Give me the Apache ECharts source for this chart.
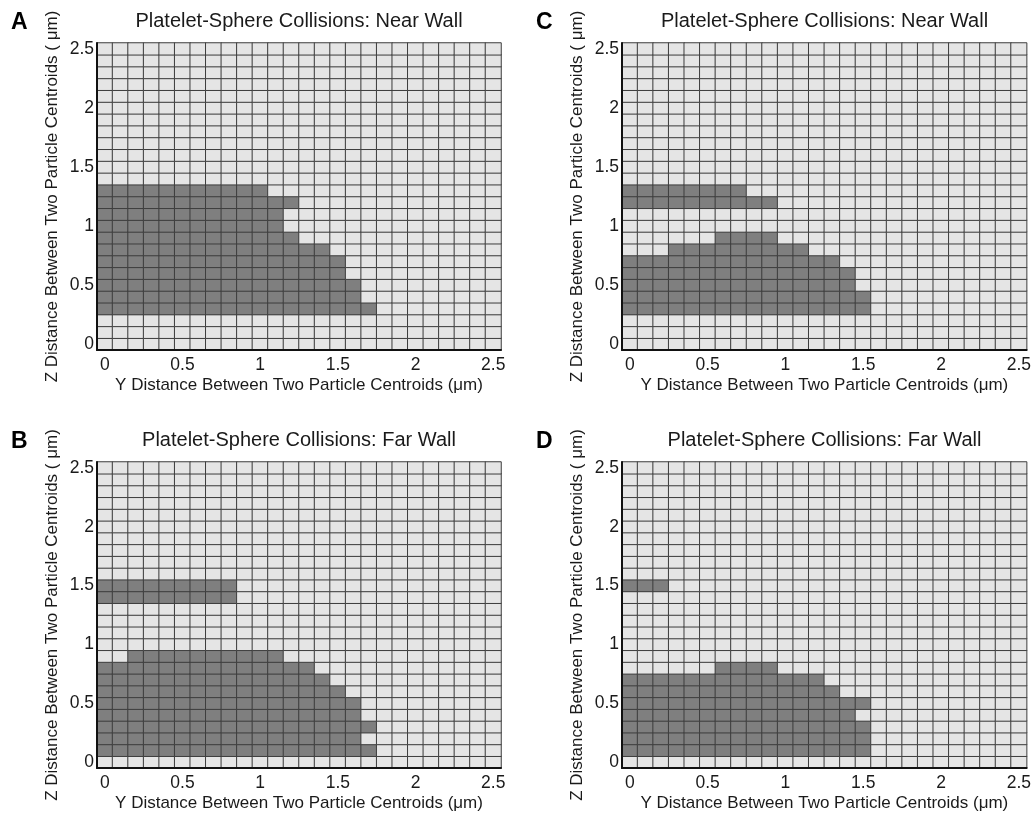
<!DOCTYPE html>
<html>
<head>
<meta charset="utf-8">
<script src="https://cdn.jsdelivr.net/npm/echarts@6/dist/echarts.min.js"></script>
<style>
html,body{margin:0;padding:0;background:#fff;}
#chart{width:1034px;height:813px;}
</style>
</head>
<body>
<div id="chart"></div>
<script>
// Axis categories (cell centres, µm)
const yDistCats = ['0','0.1','0.2','0.3','0.4','0.5','0.6','0.7','0.8','0.9','1','1.1','1.2','1.3','1.4','1.5','1.6','1.7','1.8','1.9','2','2.1','2.2','2.3','2.4','2.5'];
const zDistCats = ['0','0.1','0.2','0.3','0.4','0.5','0.6','0.7','0.8','0.9','1','1.1','1.2','1.3','1.4','1.5','1.6','1.7','1.8','1.9','2','2.1','2.2','2.3','2.4','2.5'];

// Collision cells: each entry = [Z distance of row, first Y distance, last Y distance]
const collisionsA = [
  [1.3, 0, 1.0], [1.2, 0, 1.2], [1.1, 0, 1.1], [1.0, 0, 1.1], [0.9, 0, 1.2],
  [0.8, 0, 1.4], [0.7, 0, 1.5], [0.6, 0, 1.5], [0.5, 0, 1.6], [0.4, 0, 1.6], [0.3, 0, 1.7]
];
const collisionsB = [
  [1.5, 0, 0.8], [1.4, 0, 0.8],
  [0.9, 0.2, 1.1], [0.8, 0, 1.3], [0.7, 0, 1.4], [0.6, 0, 1.5], [0.5, 0, 1.6],
  [0.4, 0, 1.6], [0.3, 0, 1.7], [0.2, 0, 1.6], [0.1, 0, 1.7]
];
const collisionsC = [
  [1.3, 0, 0.7], [1.2, 0, 0.9],
  [0.9, 0.6, 0.9], [0.8, 0.3, 1.1], [0.7, 0, 1.3], [0.6, 0, 1.4], [0.5, 0, 1.4],
  [0.4, 0, 1.5], [0.3, 0, 1.5]
];
const collisionsD = [
  [1.5, 0, 0.2],
  [0.8, 0.6, 0.9], [0.7, 0, 1.2], [0.6, 0, 1.3], [0.5, 0, 1.5], [0.4, 0, 1.4],
  [0.3, 0, 1.5], [0.2, 0, 1.5], [0.1, 0, 1.5]
];

const panelLetters = ['A', 'B', 'C', 'D'];
const panelTitles = [
  'Platelet-Sphere Collisions: Near Wall',
  'Platelet-Sphere Collisions: Far Wall',
  'Platelet-Sphere Collisions: Near Wall',
  'Platelet-Sphere Collisions: Far Wall'
];
const xAxisName = 'Y Distance Between Two Particle Centroids (\u03bcm)';
const yAxisName = 'Z Distance Between Two Particle Centroids ( \u03bcm)';

function buildCells(bands) {
  const cells = [];
  for (let xi = 0; xi < yDistCats.length; xi++) {
    const xv = parseFloat(yDistCats[xi]);
    for (let yi = 0; yi < zDistCats.length; yi++) {
      const zv = parseFloat(zDistCats[yi]);
      let hit = 0;
      bands.forEach(b => {
        if (Math.abs(b[0] - zv) < 1e-6 && xv >= b[1] - 1e-6 && xv <= b[2] + 1e-6) hit = 1;
      });
      cells.push([xi, yi, hit]);
    }
  }
  return cells;
}

const FONT = "'Liberation Sans', Arial, sans-serif";
const grids = [
  {left: 97, top: 43, width: 404, height: 307},
  {left: 97, top: 462, width: 404, height: 306},
  {left: 622, top: 43, width: 405, height: 307},
  {left: 622, top: 462, width: 405, height: 306}
];
const allData = [collisionsA, collisionsB, collisionsC, collisionsD];

const titles = [];
const xAxes = [], yAxes = [], series = [];
grids.forEach((g, i) => {
  const cx = g.left + g.width / 2;
  titles.push({
    text: panelTitles[i], left: cx, top: g.top - 32, textAlign: 'center', padding: 0,
    textStyle: {fontFamily: FONT, fontSize: 20, fontWeight: 'normal', color: '#1a1a1a'}
  });
  titles.push({
    text: panelLetters[i], left: g.left - 86, top: g.top - 32, padding: 0,
    textStyle: {fontFamily: FONT, fontSize: 23, fontWeight: 'bold', color: '#000'}
  });
  xAxes.push({
    gridIndex: i, type: 'category', data: yDistCats, z: 5,
    axisLine: {show: true, lineStyle: {color: '#111', width: 2}},
    axisTick: {show: false},
    axisLabel: {interval: 4, margin: 6, fontFamily: FONT, fontSize: 17.5, color: '#1a1a1a'},
    splitLine: {show: false},
    name: xAxisName, nameLocation: 'middle', nameGap: 27,
    nameTextStyle: {fontFamily: FONT, fontSize: 17, color: '#1a1a1a'}
  });
  yAxes.push({
    gridIndex: i, type: 'category', data: zDistCats, z: 5,
    axisLine: {show: true, lineStyle: {color: '#111', width: 2}},
    axisTick: {show: false},
    axisLabel: {interval: 4, margin: 3, fontFamily: FONT, fontSize: 17.5, color: '#1a1a1a'},
    splitLine: {show: false},
    name: yAxisName, nameLocation: 'middle', nameGap: 36, nameRotate: 90,
    nameTextStyle: {fontFamily: FONT, fontSize: 17, color: '#1a1a1a'}
  });
  series.push({
    type: 'heatmap', xAxisIndex: i, yAxisIndex: i,
    data: buildCells(allData[i]),
    itemStyle: {borderColor: '#3d3d3d', borderWidth: 1},
    emphasis: {disabled: true},
    silent: true
  });
});

const chart = echarts.init(document.getElementById('chart'), null, {renderer: 'canvas'});
chart.setOption({
  animation: false,
  backgroundColor: '#fff',
  title: titles,
  grid: grids,
  xAxis: xAxes,
  yAxis: yAxes,
  visualMap: {
    type: 'piecewise', show: false, dimension: 2,
    pieces: [{value: 0, color: '#e5e5e5'}, {value: 1, color: '#7f7f7f'}]
  },
  series: series
});
</script>
</body>
</html>
